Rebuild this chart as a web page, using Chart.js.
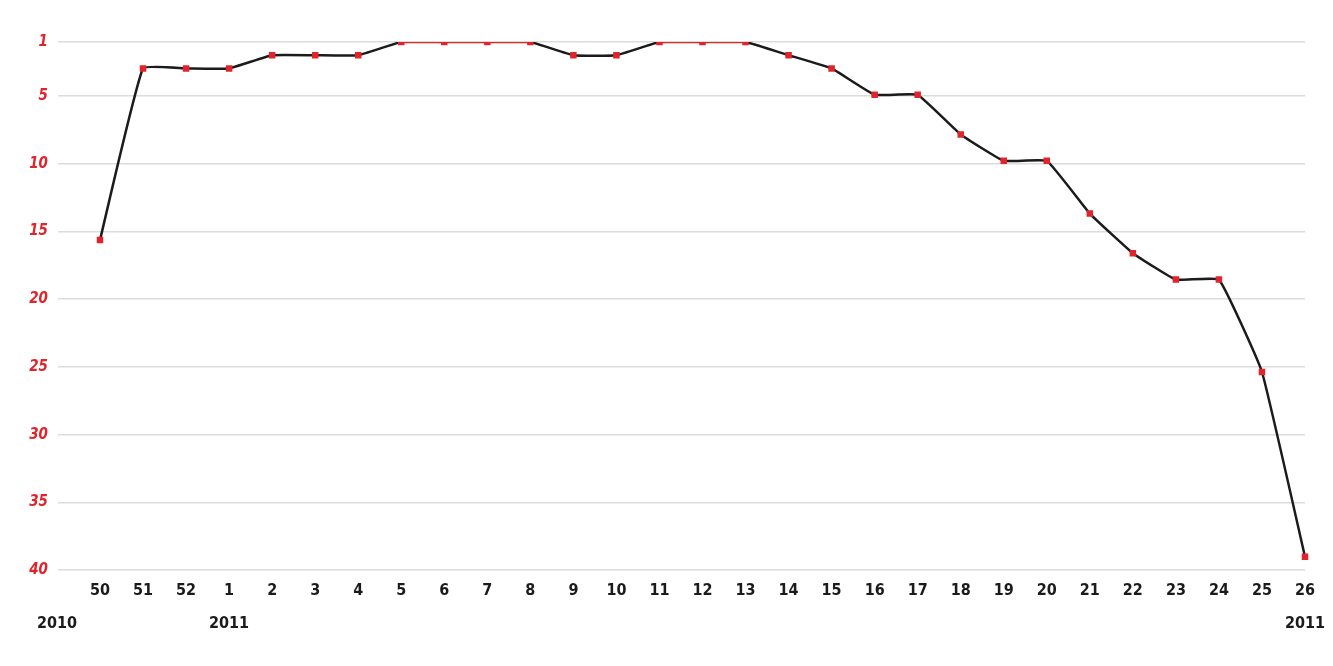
<!DOCTYPE html>
<html>
<head>
<meta charset="utf-8">
<script src="https://cdn.jsdelivr.net/npm/chart.js@4"></script>
<style>
  html, body { margin: 0; padding: 0; background: #fff; }
  #wrap { width: 1333px; height: 666px; position: relative; }
</style>
</head>
<body>
<div id="wrap"><canvas id="rankChart"></canvas></div>
<script>
// weeks on the chart, 2010 wk 50 -> 2011 wk 26
const weeks = ['50', '51', '52', '1', '2', '3', '4', '5', '6', '7', '8', '9', '10', '11',
  '12', '13', '14', '15', '16', '17', '18', '19', '20', '21', '22', '23', '24', '25', '26'];
const positions = [16, 3, 3, 3, 2, 2, 2, 1, 1, 1, 1, 2, 2, 1, 1, 1, 2, 3, 5, 5, 8, 10, 10,
  14, 17, 19, 19, 26, 40];
const yTicks = [1, 5, 10, 15, 20, 25, 30, 35, 40];
const yearLabels = ['2010', '2011', '2011'];
const yearIndex = [-1, 3, 28];

const RED = '#e0242c';
const BLACK = '#1b1b1b';
const FONT = '"DejaVu Sans Condensed", "Liberation Sans Narrow", sans-serif';

// year captions under the week labels
const yearPlugin = {
  id: 'years',
  afterDraw(chart) {
    const x = chart.scales.x;
    const ctx = chart.ctx;
    const step = x.getPixelForValue(1) - x.getPixelForValue(0);
    ctx.save();
    ctx.font = 'bold 16px ' + FONT;
    ctx.fillStyle = BLACK;
    ctx.textAlign = 'center';
    ctx.textBaseline = 'middle';
    yearLabels.forEach((txt, i) => {
      const px = x.getPixelForValue(0) + yearIndex[i] * step;
      ctx.fillText(txt, px, 624);
    });
    ctx.restore();
  }
};

new Chart(document.getElementById('rankChart'), {
  type: 'line',
  data: {
    labels: weeks,
    datasets: [{
      data: positions,
      yAxisID: 'y',
      borderColor: BLACK,
      borderWidth: 2.5,
      tension: 0.1,
      pointStyle: 'rect',
      pointRadius: 4.6,
      pointBackgroundColor: RED,
      pointBorderWidth: 0,
      segment: {
        borderColor: c => (c.p0.parsed.y === 1 && c.p1.parsed.y === 1) ? RED : BLACK
      }
    }]
  },
  options: {
    responsive: true,
    maintainAspectRatio: false,
    animation: false,
    layout: { padding: { top: 42, right: 28, left: 0, bottom: 0 } },
    plugins: { legend: { display: false }, tooltip: { enabled: false } },
    scales: {
      x: {
        offset: false,
        grid: { display: false },
        border: { display: false },
        ticks: {
          color: BLACK,
          padding: 3,
          maxRotation: 0,
          autoSkip: false,
          font: { family: FONT, size: 16, weight: 'bold' }
        },
        afterFit(scale) { scale.height = 96; }
      },
      y: {
        display: false,
        reverse: true,
        min: 1,
        max: 41
      },
      yGrid: {
        position: 'left',
        reverse: true,
        min: 1,
        max: 40,
        afterBuildTicks(scale) {
          scale.ticks = yTicks.map(v => ({ value: v }));
        },
        grid: {
          color: '#dcdcdc',
          lineWidth: 1.5,
          tickLength: 42,
          tickColor: '#dcdcdc'
        },
        border: { display: false },
        ticks: {
          color: RED,
          padding: 10,
          font: { family: FONT, size: 15, weight: 'bold', style: 'italic' }
        },
        afterFit(scale) { scale.width = 100; }
      }
    }
  },
  plugins: [yearPlugin]
});
</script>
</body>
</html>
